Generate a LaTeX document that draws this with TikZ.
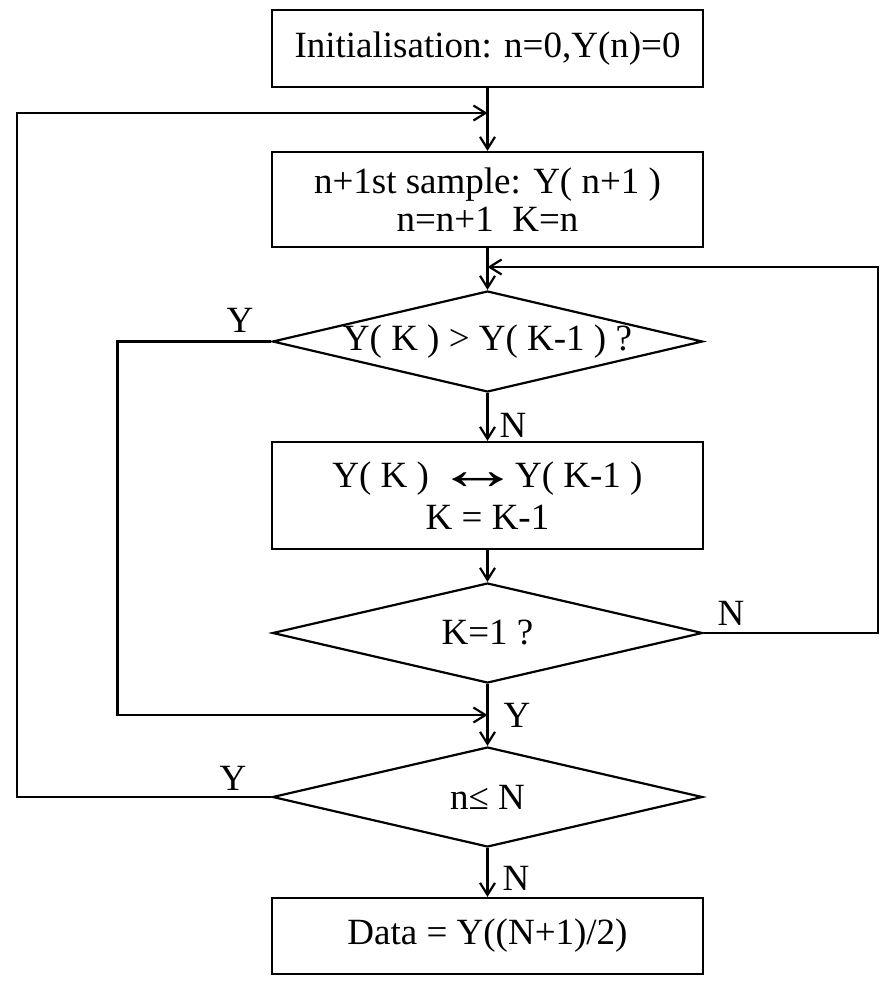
\documentclass[tikz,border=0pt]{standalone}
\usepackage{fontspec}
\usepackage{graphicx}
\setmainfont{Liberation Serif}
\usetikzlibrary{arrows.meta,shapes.geometric}
\begin{document}
\begin{tikzpicture}[x=1pt,y=-1pt,
  every node/.style={font=\fontsize{37}{42}\selectfont},
  box/.style={draw,line width=2.2pt,minimum width=431pt,inner sep=0pt,align=center},
  dia/.style={draw,diamond,line width=2.2pt,minimum width=430pt,inner sep=0pt},
  lbl/.style={inner sep=0pt},
  arr/.style={line width=2.2pt,-{Straight Barb[length=12pt,width=15pt]}}]
\useasboundingbox (0,0) rectangle (886,985);
\node[box,minimum height=77pt] (b1) at (487.5,48.5) {Initialisation: n=0,Y(n)=0};
\node[box,minimum height=95pt] (b2) at (487.5,199.5) {n+1st sample: Y( n+1 )\\[-4pt] n=n+1\ \ K=n};
\node[dia,minimum height=101pt,label={center:Y( K ) > Y( K-1 ) ?}] (d1) at (487.5,341.5) {};
\node[box,minimum height=107pt] (b3) at (487.5,495.5) {Y( K )\hspace{6pt}\raisebox{-2pt}{\scalebox{2.3}[1.6]{↔}}\hspace{-5pt}Y( K-1 )\\ K = K-1};
\node[dia,minimum height=100pt,label={center:K=1 ?}] (d2) at (487.5,633) {};
\node[dia,minimum height=100pt,label={center:n≤ N}] (d3) at (487.5,797) {};
\node[box,minimum height=76pt] (b4) at (487.5,936) {Data = Y((N+1)/2)};
\coordinate (j1) at (487.5,113);
\coordinate (j2) at (487.5,267);
\coordinate (j3) at (487.5,715);
\draw[arr] (b1.south) -- (b2.north);
\draw[arr] (d3.west) -- ++(-254.5,0) |- (j1);
\draw[arr] (b2.south) -- (d1.north);
\draw[arr] (d2.east) -- ++(174,0) |- (j2);
\draw[arr] (d1.south) -- (b3.north);
\draw[arr] (b3.south) -- (d2.north);
\draw[arr] (d1.west) -- ++(-154,0) |- (j3);
\draw[arr] (d2.south) -- (d3.north);
\draw[arr] (d3.south) -- (b4.north);
\node[lbl] (ly1) at (240,320) {Y};
\node[lbl] (ln1) at (513,425) {N};
\node[lbl] (ln2) at (731,613) {N};
\node[lbl] (ly2) at (517,715) {Y};
\node[lbl] (ly3) at (233,778) {Y};
\node[lbl] (ln3) at (516,878) {N};
\end{tikzpicture}
\end{document}
